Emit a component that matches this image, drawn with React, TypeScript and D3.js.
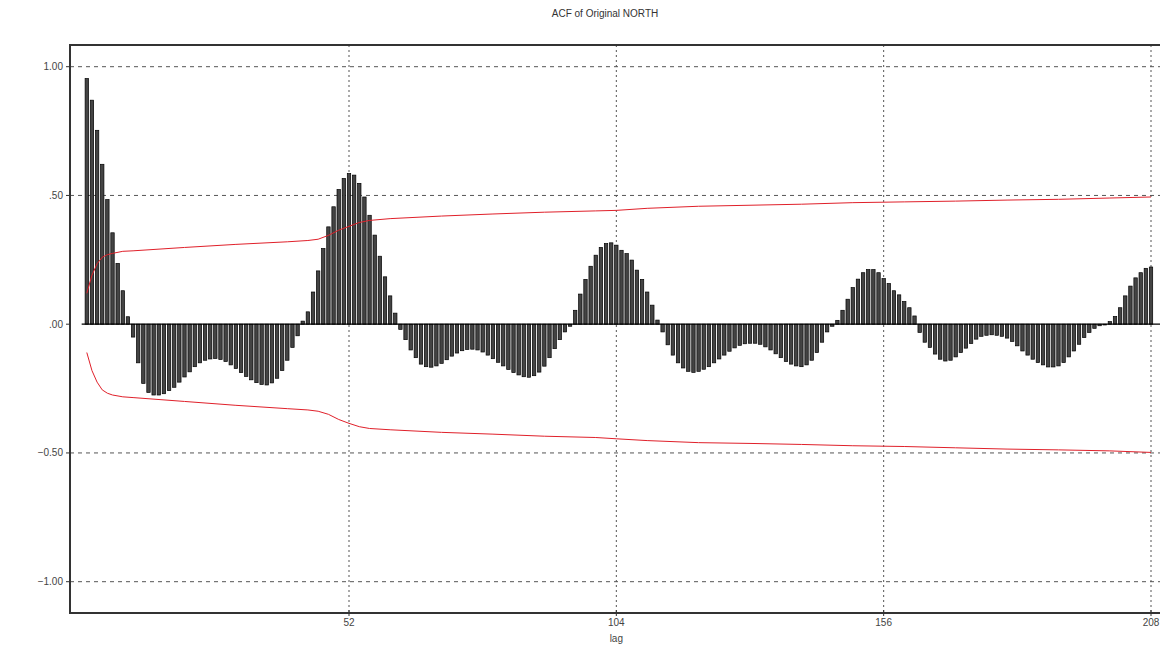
import React, { useEffect } from 'react';
import * as d3 from 'd3';

// chart text
const title = 'ACF of Original NORTH';
const xTitle = 'lag';

// tick values and labels
const yTicks = [1, 0.5, 0, -0.5, -1];
const yTickLabels = ['1.00', '.50', '.00', '\u22120.50', '\u22121.00'];
const xTicks = [52, 104, 156, 208];

// autocorrelation, lags 1..208
const acf = [
  0.954, 0.87, 0.753, 0.621, 0.484, 0.355, 0.236, 0.13, 0.029,
  -0.05, -0.15, -0.23, -0.265, -0.275, -0.275, -0.27, -0.258, -0.245, -0.225,
  -0.205, -0.185, -0.165, -0.15, -0.14, -0.135, -0.133, -0.137, -0.145, -0.158,
  -0.172, -0.188, -0.203, -0.216, -0.227, -0.234, -0.236, -0.228, -0.21, -0.18,
  -0.14, -0.09, -0.045, 0.012,
  0.048, 0.125, 0.207, 0.294, 0.378, 0.456, 0.523, 0.566, 0.585, 0.579,
  0.547, 0.494, 0.423, 0.346, 0.264, 0.184, 0.11, 0.043,
  -0.02, -0.06, -0.1, -0.13, -0.155, -0.165, -0.167, -0.162, -0.152, -0.138,
  -0.124, -0.112, -0.103, -0.098, -0.097, -0.1, -0.108, -0.12, -0.134, -0.148,
  -0.162, -0.176, -0.188, -0.197, -0.204, -0.206, -0.2, -0.186, -0.163, -0.13,
  -0.095, -0.06, -0.03, -0.008,
  0.054, 0.117, 0.174, 0.225, 0.268, 0.298, 0.313, 0.316, 0.307, 0.287,
  0.274, 0.249, 0.21, 0.174, 0.125, 0.074, 0.016,
  -0.03, -0.08, -0.12, -0.15, -0.17, -0.183, -0.187, -0.183, -0.175, -0.165,
  -0.15, -0.135, -0.12, -0.105, -0.092, -0.082, -0.076, -0.074, -0.074, -0.078,
  -0.088, -0.1, -0.115, -0.13, -0.145, -0.155, -0.162, -0.165, -0.158, -0.14,
  -0.11, -0.07, -0.03, -0.008,
  0.015, 0.054, 0.097, 0.142, 0.175, 0.2, 0.212, 0.212, 0.2, 0.177,
  0.158, 0.13, 0.114, 0.088, 0.064, 0.032,
  -0.032, -0.07, -0.09, -0.116, -0.136, -0.143, -0.14, -0.127, -0.11, -0.093,
  -0.075, -0.058, -0.047, -0.043, -0.041, -0.043, -0.047, -0.054, -0.067, -0.084,
  -0.104, -0.12, -0.136, -0.149, -0.158, -0.166, -0.166, -0.162, -0.149, -0.127,
  -0.104, -0.078, -0.052, -0.032, -0.016, -0.006, -0.003,
  0.01, 0.03, 0.064, 0.11, 0.148, 0.18, 0.2, 0.217, 0.222,
];

// confidence band, read at a few lags
const bandLags = [1, 2, 3, 4, 5, 6, 8, 10, 20, 30, 40, 44, 46, 48, 50, 52, 54, 56, 60, 70, 80, 90, 100, 104, 110, 120, 130, 140, 150, 160, 170, 180, 190, 200, 208];
const bandUpper = [0.12, 0.19, 0.235, 0.26, 0.27, 0.275, 0.283, 0.285, 0.298, 0.31, 0.32, 0.325, 0.33, 0.345, 0.365, 0.38, 0.395, 0.403, 0.41, 0.42, 0.428, 0.435, 0.44, 0.442, 0.45, 0.458, 0.462, 0.466, 0.472, 0.475, 0.478, 0.482, 0.485, 0.49, 0.494];
const bandLower = [-0.11, -0.18, -0.225, -0.255, -0.268, -0.275, -0.282, -0.285, -0.3, -0.315, -0.328, -0.333, -0.338, -0.35, -0.37, -0.385, -0.398, -0.405, -0.41, -0.42, -0.427, -0.435, -0.44, -0.445, -0.452, -0.46, -0.463, -0.467, -0.472, -0.475, -0.48, -0.485, -0.488, -0.492, -0.498];

const width = 1160;
const height = 647;

const App = () => {
  useEffect(() => {
    document.body.style.margin = '0';
  }, []);

  // scales: lag 52 -> 349px, lag 208 -> 1151px
  const x = d3.scaleLinear().domain([52, 208]).range([349, 1151]);
  const y = d3.scaleLinear().domain([1, -1]).range([66.7, 581.7]);

  const frameLeft = 70;
  const frameTop = 45;
  const frameBottom = 613;

  const line = d3
    .line<number>()
    .x((_, i) => x(bandLags[i]))
    .y((d) => y(d));

  const barW = 3.4;
  const font = 'Liberation Sans, Arial, sans-serif';

  return (
    <svg width={width} height={height} style={{ display: 'block', background: '#fff' }}>
      <text x={605} y={17} textAnchor="middle" fontFamily={font} fontSize={10} fill="#333">
        {title}
      </text>

      {/* horizontal grid */}
      {yTicks
        .filter((t) => t !== 0)
        .map((t) => (
          <line key={'gy' + t} x1={frameLeft} x2={width} y1={y(t)} y2={y(t)} stroke="#555" strokeWidth={1} strokeDasharray="4,4" />
        ))}
      {/* vertical grid */}
      {xTicks.map((t) => (
        <line key={'gx' + t} x1={x(t)} x2={x(t)} y1={frameTop} y2={frameBottom} stroke="#555" strokeWidth={1} strokeDasharray="2,3" />
      ))}

      {/* bars */}
      {acf.map((v, i) => (
        <rect
          key={'b' + i}
          x={x(i + 1) - barW / 2}
          y={Math.min(y(v), y(0))}
          width={barW}
          height={Math.abs(y(v) - y(0))}
          fill="#444"
          stroke="#000"
          strokeWidth={0.7}
        />
      ))}

      {/* zero line */}
      <line x1={x(0)} x2={width} y1={y(0)} y2={y(0)} stroke="#000" strokeWidth={1.2} />

      {/* confidence bands */}
      <path d={line(bandUpper) || ''} fill="none" stroke="#e0202a" strokeWidth={1} />
      <path d={line(bandLower) || ''} fill="none" stroke="#e0202a" strokeWidth={1} />

      {/* frame */}
      <rect x={frameLeft} y={frameTop} width={width} height={frameBottom - frameTop} fill="none" stroke="#333" strokeWidth={2} />

      {/* y axis ticks and labels */}
      {yTicks.map((t, i) => (
        <g key={'yt' + t}>
          <line x1={frameLeft - 4} x2={frameLeft} y1={y(t)} y2={y(t)} stroke="#333" />
          <text x={frameLeft - 7} y={y(t) + 3.5} textAnchor="end" fontFamily={font} fontSize={10} fill="#444">
            {yTickLabels[i]}
          </text>
        </g>
      ))}

      {/* x axis ticks and labels */}
      {xTicks.map((t) => (
        <g key={'xt' + t}>
          <line x1={x(t)} x2={x(t)} y1={frameBottom - 3} y2={frameBottom + 3} stroke="#333" />
          <text x={x(t)} y={frameBottom + 13} textAnchor="middle" fontFamily={font} fontSize={10} fill="#444">
            {t}
          </text>
        </g>
      ))}
      <text x={x(104)} y={frameBottom + 29} textAnchor="middle" fontFamily={font} fontSize={10} fill="#444">
        {xTitle}
      </text>
    </svg>
  );
};

export default App;
